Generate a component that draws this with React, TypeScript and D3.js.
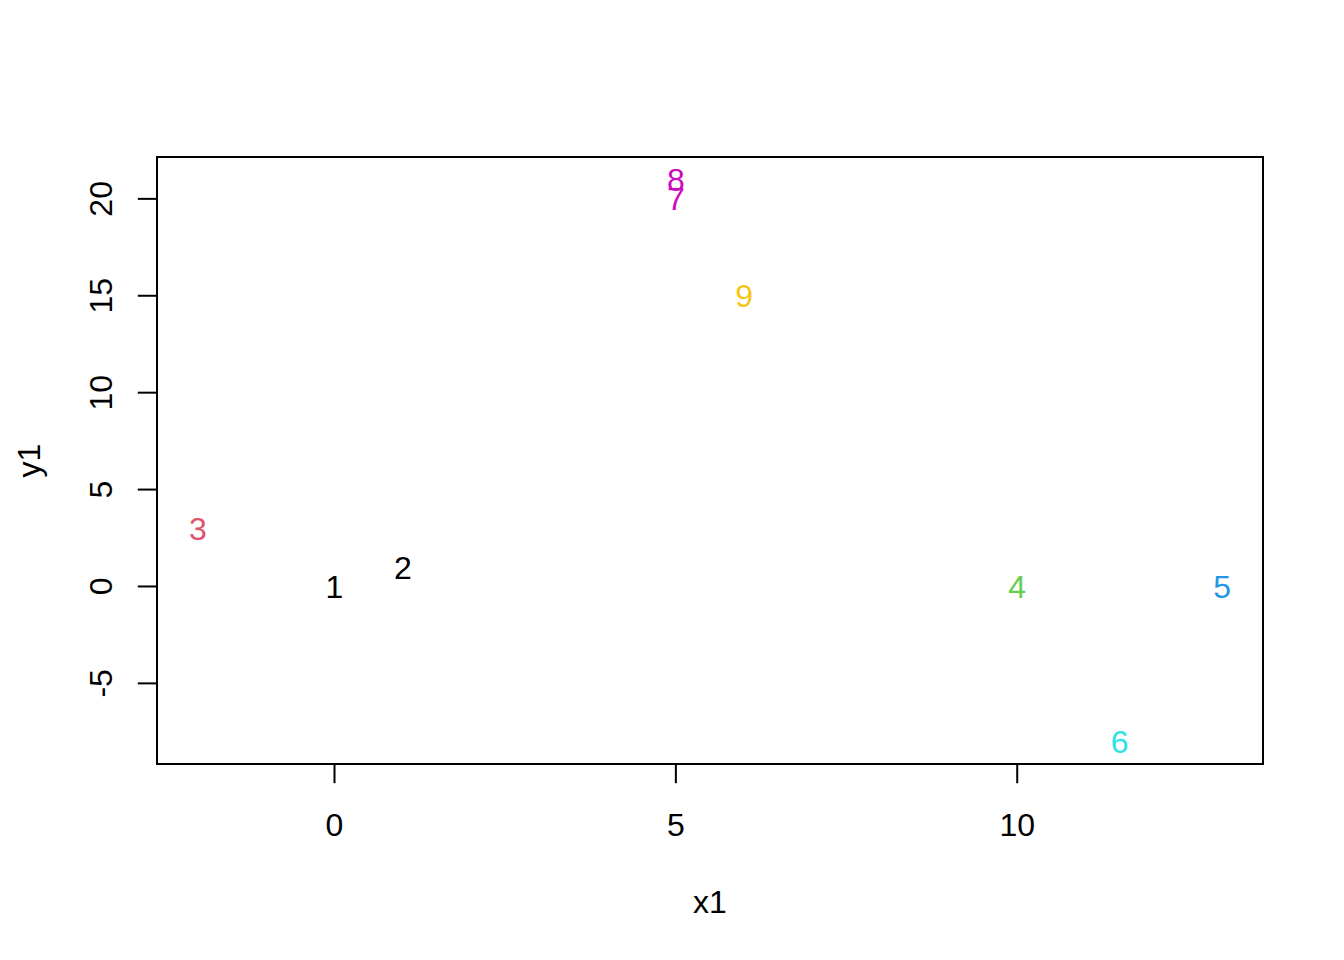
import React, { useEffect, useRef } from "react";
import * as d3 from "d3";

// point positions and labels
const x1 = [0, 1, -2, 10, 13, 11.5, 5, 5, 6];
const y1 = [0, 1, 3, 0, 0, -8, 20, 21, 15];
const labels = ["1", "2", "3", "4", "5", "6", "7", "8", "9"];
const colors = [
  "#000000",
  "#000000",
  "#DF536B",
  "#61D04F",
  "#2297E6",
  "#28E2E5",
  "#CD0BBC",
  "#CD0BBC",
  "#F5C710",
];
const xTicks = [0, 5, 10];
const yTicks = [-5, 0, 5, 10, 15, 20];

const App = () => {
  const svgRef = useRef<SVGSVGElement | null>(null);

  useEffect(() => {
    const width = 1344,
      height = 960;
    const margin = { top: 157, right: 81, bottom: 196, left: 157 };
    const fontSize = 32;
    const tickLen = 19.2;
    const font = "'Liberation Sans', Arial, sans-serif";

    // R style 4% range extension
    const xExt = d3.extent(x1) as [number, number];
    const yExt = d3.extent(y1) as [number, number];
    const xPad = (xExt[1] - xExt[0]) * 0.04;
    const yPad = (yExt[1] - yExt[0]) * 0.04;

    const x = d3
      .scaleLinear()
      .domain([xExt[0] - xPad, xExt[1] + xPad])
      .range([margin.left, width - margin.right]);
    const y = d3
      .scaleLinear()
      .domain([yExt[0] - yPad, yExt[1] + yPad])
      .range([height - margin.bottom, margin.top]);

    const svg = d3.select(svgRef.current);
    svg.selectAll("*").remove();

    const bottom = height - margin.bottom;

    // box
    svg
      .append("rect")
      .attr("x", margin.left)
      .attr("y", margin.top)
      .attr("width", width - margin.left - margin.right)
      .attr("height", bottom - margin.top)
      .attr("fill", "none")
      .attr("stroke", "#000")
      .attr("stroke-width", 2);

    // x axis
    const gx = svg.append("g").attr("stroke", "#000").attr("stroke-width", 2);
    gx.append("line")
      .attr("x1", x(xTicks[0]))
      .attr("x2", x(xTicks[xTicks.length - 1]))
      .attr("y1", bottom)
      .attr("y2", bottom);
    gx.selectAll(".tk")
      .data(xTicks)
      .enter()
      .append("line")
      .attr("x1", (d) => x(d))
      .attr("x2", (d) => x(d))
      .attr("y1", bottom)
      .attr("y2", bottom + tickLen);
    svg
      .selectAll(".xl")
      .data(xTicks)
      .enter()
      .append("text")
      .attr("x", (d) => x(d))
      .attr("y", bottom + 60)
      .attr("dy", "0.36em")
      .attr("text-anchor", "middle")
      .style("font-family", font)
      .style("font-size", fontSize + "px")
      .text((d) => String(d));

    // y axis
    const gy = svg.append("g").attr("stroke", "#000").attr("stroke-width", 2);
    gy.append("line")
      .attr("x1", margin.left)
      .attr("x2", margin.left)
      .attr("y1", y(yTicks[0]))
      .attr("y2", y(yTicks[yTicks.length - 1]));
    gy.selectAll(".tk")
      .data(yTicks)
      .enter()
      .append("line")
      .attr("x1", margin.left)
      .attr("x2", margin.left - tickLen)
      .attr("y1", (d) => y(d))
      .attr("y2", (d) => y(d));
    svg
      .selectAll(".yl")
      .data(yTicks)
      .enter()
      .append("text")
      .attr(
        "transform",
        (d) => "translate(" + (margin.left - 57) + "," + y(d) + ") rotate(-90)"
      )
      .attr("dy", "0.36em")
      .attr("text-anchor", "middle")
      .style("font-family", font)
      .style("font-size", fontSize + "px")
      .text((d) => String(d));

    // axis titles
    svg
      .append("text")
      .attr("x", (margin.left + width - margin.right) / 2)
      .attr("y", 901)
      .attr("dy", "0.36em")
      .attr("text-anchor", "middle")
      .style("font-family", font)
      .style("font-size", fontSize + "px")
      .text("x1");
    svg
      .append("text")
      .attr(
        "transform",
        "translate(28," + (margin.top + bottom) / 2 + ") rotate(-90)"
      )
      .attr("dy", "0.36em")
      .attr("text-anchor", "middle")
      .style("font-family", font)
      .style("font-size", fontSize + "px")
      .text("y1");

    // point labels
    svg
      .selectAll(".pt")
      .data(labels)
      .enter()
      .append("text")
      .attr("x", (d, i) => x(x1[i]))
      .attr("y", (d, i) => y(y1[i]))
      .attr("dy", "0.36em")
      .attr("text-anchor", "middle")
      .style("font-family", font)
      .style("font-size", fontSize + "px")
      .style("fill", (d, i) => colors[i])
      .text((d) => d);
  }, []);

  return (
    <svg
      ref={svgRef}
      width={1344}
      height={960}
      style={{ position: "absolute", left: 0, top: 0, background: "#fff" }}
    />
  );
};

export default App;
